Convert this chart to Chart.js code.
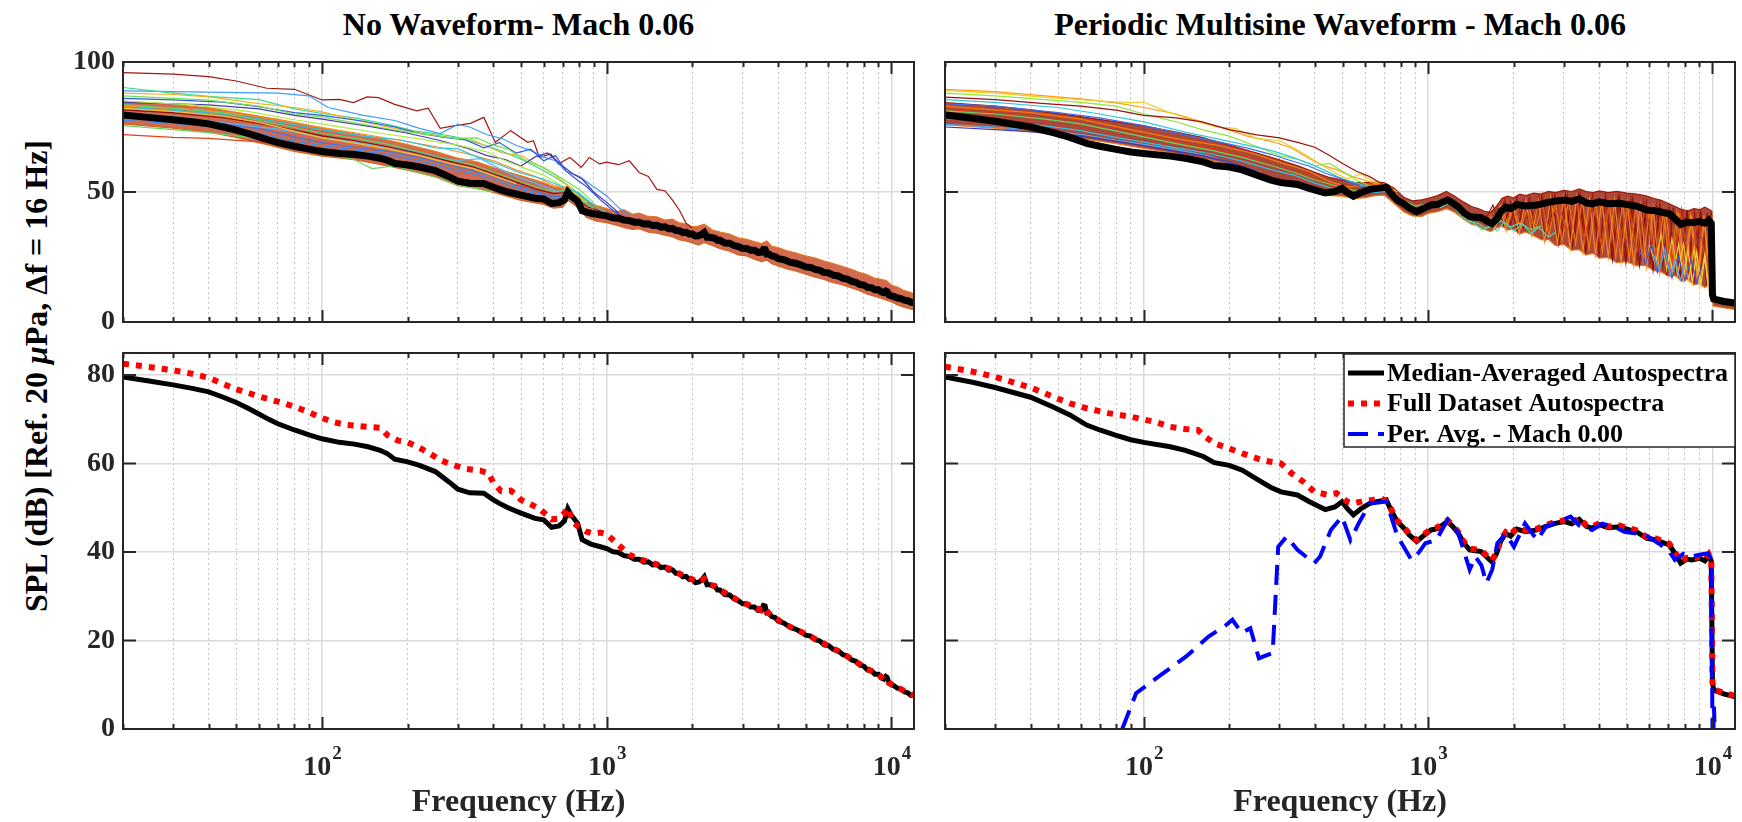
<!DOCTYPE html>
<html>
<head>
<meta charset="utf-8">
<script src="https://cdn.jsdelivr.net/npm/chart.js@4.4.1/dist/chart.umd.min.js"></script>
<style>
    html, body { margin: 0; padding: 0; background: #fff; }
    #page { position: relative; width: 1742px; height: 822px; overflow: hidden;
            font-family: "Liberation Serif", "Times New Roman", serif; font-weight: bold; color: #000; }
    canvas { position: absolute; }
    .title { position: absolute; top: 4px; font-size: 32px; line-height: 40px; text-align: center; white-space: nowrap; }
    #ylab { position: absolute; left: 36px; top: 376px; font-size: 32px; white-space: nowrap;
            transform: translate(-50%, -50%) rotate(-90deg); }
</style>
</head>
<body>
<div id="page">
    <div class="title" style="left:123px;width:791px;">No Waveform- Mach 0.06</div>
    <div class="title" style="left:945px;width:790px;">Periodic Multisine Waveform - Mach 0.06</div>
    <div id="ylab">SPL (dB) [Ref. 20 <i>μ</i>Pa, Δf = 16 Hz]</div>
    <canvas id="tl" width="930" height="337" style="left:0;top:0"></canvas>
    <canvas id="tr" width="812" height="337" style="left:930px;top:0"></canvas>
    <canvas id="bl" width="930" height="485" style="left:0;top:337px"></canvas>
    <canvas id="br" width="812" height="485" style="left:930px;top:337px"></canvas>
</div>
<script>
// ---- axis ticks ----
const xTickFreqs = [20, 30, 40, 50, 60, 70, 80, 90, 100, 200, 300, 400, 500, 600, 700, 800, 900,
    1000, 2000, 3000, 4000, 5000, 6000, 7000, 8000, 9000, 10000];
const majorFreqs = [100, 1000, 10000];
const majorExp = ['2', '3', '4'];
const yTicksTop = [0, 50, 100];
const yTicksBottom = [0, 20, 40, 60, 80];

// ---- median-averaged autospectra (black) ----
const medNoWave = [[20,79.6],[25,78.6],[30,77.8],[35,77.0],[40,76.2],[45,75.0],[50,73.8],[55,72.5],[60,71.2],
    [65,70.0],[70,69.0],[80,67.6],[90,66.5],[100,65.6],[115,64.8],[130,64.4],[145,63.8],[160,63.0],[170,62.2],
    [180,61.0],[200,60.4],[220,59.6],[250,58.2],[280,55.8],[300,54.2],[330,53.4],[370,53.3],[400,51.8],[420,51.0],
    [450,50.0],[500,48.8],[560,47.6],[600,47.3],[640,45.6],[680,45.9],[710,47.0],[730,49.8],[750,48.4],[790,46.5],
    [820,42.8],[880,41.8],[950,41.2],[1000,40.8],[1050,40.1],[1100,39.9],[1150,39.2],[1200,39.0],[1250,38.4],
    [1300,38.4],[1350,37.7],[1400,37.8],[1450,37.1],[1500,37.2],[1550,36.5],[1600,36.6],[1650,35.9],[1700,36.0],
    [1750,35.2],[1800,35.1],[1850,34.4],[1900,34.5],[1950,33.8],[2000,33.8],[2050,33.1],[2100,33.2],[2150,33.6],
    [2200,34.4],[2250,32.6],[2300,32.6],[2400,32.2],[2450,31.4],[2500,31.4],[2600,30.4],[2700,30.3],[2800,29.4],
    [2900,29.0],[3000,28.3],[3100,28.3],[3200,27.6],[3300,27.6],[3400,26.8],[3500,26.9],[3550,27.9],[3600,27.8],
    [3650,26.2],[3700,26.2],[3800,25.4],[3900,25.2],[4000,24.4],[4200,23.9],[4400,23.0],[4600,22.6],[4800,22.0],
    [5000,21.2],[5200,21.0],[5400,20.2],[5600,19.9],[5800,19.0],[6000,18.9],[6250,18.0],[6500,17.7],[6750,16.8],
    [7000,16.5],[7250,15.6],[7500,15.3],[7750,14.4],[8000,14.2],[8250,13.3],[8500,13.2],[8750,12.4],[9000,12.4],
    [9200,11.6],[9400,11.3],[9550,11.9],[9650,11.7],[9800,10.4],[10000,10.0],[10200,9.8],[10500,9.2],[10800,9.0],
    [11100,8.4],[11400,8.2],[11700,7.6],[12000,7.5]];

const medPeriodic = [[20,79.6],[25,78.4],[30,77.2],[40,75.0],[48,72.8],[55,71.0],[63,68.7],[70,67.6],[80,66.4],
    [90,65.4],[100,64.8],[124,63.8],[140,63.0],[162,61.6],[177,60.2],[200,59.6],[222,58.5],[250,56.5],[280,54.6],
    [304,53.6],[347,52.9],[380,51.5],[410,50.4],[435,49.6],[470,50.2],[498,51.4],[520,49.8],[546,48.4],[580,49.8],
    [624,51.0],[660,51.4],[713,51.8],[740,49.5],[780,46.8],[815,45.7],[860,43.8],[912,42.4],[960,43.6],[1024,45.0],
    [1080,45.3],[1130,46.2],[1171,46.9],[1220,45.8],[1278,44.2],[1330,42.2],[1400,40.5],[1470,40.3],[1536,40.1],
    [1600,39.0],[1675,37.8],[1740,39.6],[1800,42.5],[1876,44.2],[1950,43.6],[2050,45.2],[2200,44.6],[2418,45.0],
    [2600,45.8],[2800,46.5],[3017,46.9],[3200,46.4],[3400,47.4],[3600,45.8],[3768,45.4],[4000,46.2],[4300,45.5],
    [4707,45.7],[5000,45.2],[5400,44.6],[5879,43.1],[6300,42.8],[7050,41.6],[7400,39.6],[7730,37.5],[8100,38.4],
    [8450,38.2],[9000,38.6],[9400,38.0],[9700,39.2],[9900,38.0],[10000,10.4],[10100,8.8],[10500,8.4],[11000,7.9],
    [11500,7.6],[12000,7.3]];

// ---- full dataset autospectra (red dotted) ----
const fullNoWave = [[20,82.6],[25,81.8],[30,81.1],[35,80.3],[40,79.4],[45,78.0],[50,76.8],[60,75.2],[70,74.0],
    [80,72.9],[90,71.6],[100,70.3],[110,69.4],[120,68.8],[140,68.4],[160,68.1],[170,66.4],[185,65.2],[200,64.8],
    [220,63.6],[240,62.2],[260,60.8],[285,59.8],[320,58.8],[360,58.4],[385,57.8],[400,55.6],[425,53.8],[460,53.9],
    [480,53.0],[500,51.8],[540,50.8],[580,49.8],[640,47.4],[680,47.6],[710,48.8],[730,50.0],[760,46.8],[800,45.6],
    [850,44.6],[900,44.2],[950,44.4],[1000,44.0],[1100,41.6],[1200,39.4],[1300,38.4],[1400,37.8],[1500,37.2],
    [1600,36.6],[1700,36.0],[1800,35.1],[1900,34.5],[2000,33.8],[2100,33.2],[2200,34.0],[2300,32.6],[2400,32.3],
    [2500,31.4],[2700,30.2],[2900,29.0],[3100,28.2],[3300,27.6],[3500,26.8],[3600,27.4],[3700,26.2],[3900,25.1],
    [4200,23.8],[4500,22.8],[4800,22.0],[5200,20.9],[5600,19.8],[6000,18.8],[6500,17.6],[7000,16.4],[7500,15.2],
    [8000,14.1],[8500,13.1],[9000,12.4],[9400,11.2],[9600,11.4],[9800,10.4],[10200,9.8],[10800,9.0],[11400,8.2],[12000,7.6]];

const fullPeriodic = [[20,81.9],[25,80.8],[30,79.6],[40,77.2],[48,75.1],[55,73.6],[63,72.5],[75,71.4],[90,70.6],
    [110,69.4],[124,68.3],[140,67.8],[155,67.6],[165,66.0],[177,64.6],[200,63.4],[222,62.3],[260,60.8],[304,60.0],
    [331,57.8],[364,55.9],[398,53.6],[440,53.0],[476,53.3],[520,51.4],[546,51.0],[600,51.6],[640,51.8],[680,52.2],
    [713,51.6],[740,49.8],[780,47.0],[815,46.0],[860,44.0],[912,42.7],[960,43.8],[1024,45.3],[1080,45.6],[1130,46.5],
    [1171,47.2],[1220,46.0],[1278,44.5],[1330,42.5],[1400,40.8],[1470,40.6],[1536,40.4],[1600,39.3],[1675,38.1],
    [1740,39.9],[1800,42.8],[1876,44.5],[1950,43.9],[2050,45.5],[2200,44.9],[2418,45.3],[2600,46.1],[2800,46.8],
    [3017,47.2],[3200,46.7],[3400,47.7],[3600,46.1],[3768,45.7],[4000,46.5],[4300,45.8],[4707,46.0],[5000,45.5],
    [5400,44.9],[5879,43.4],[6300,43.1],[7050,41.9],[7400,39.9],[7730,37.8],[8100,38.7],[8450,38.5],[9000,38.9],
    [9400,38.3],[9700,39.5],[9900,38.3],[10000,10.6],[10100,9.0],[10500,8.6],[11000,8.1],[11500,7.8],[12000,7.5]];

// ---- periodic average, Mach 0.00 (blue dashed) ----
const perAvgMach0 = [[84,0],[94,8.1],[113,11.9],[141,16.4],[169,20.9],[194,23.4],[205,24.7],[221,21.7],[237,22.8],
    [254,16.0],[284,17.2],[297,41.2],[318,43.5],[347,40.5],[398,37.5],[417,39.0],[455,45.0],[498,48.0],[533,42.7],
    [570,46.5],[624,51.0],[713,51.4],[781,43.5],[874,38.2],[930,40.0],[978,42.0],[1068,42.7],[1171,47.3],[1278,44.2],
    [1400,36.0],[1464,39.0],[1540,37.0],[1602,33.0],[1680,36.0],[1752,42.0],[1876,44.2],[2003,41.2],[2191,46.5],
    [2418,42.7],[2600,45.8],[2768,46.5],[3170,48.0],[3400,46.0],[3768,45.0],[4100,46.4],[4508,45.7],[4900,44.6],
    [5390,44.2],[5900,43.6],[6446,42.0],[7000,40.4],[7375,38.2],[7900,39.6],[8450,39.0],[9000,39.4],[9600,39.7],
    [9900,38.6],[10000,0],[10080,0],[10120,5.1],[10180,0]];

// ---- individual-record spectra, no waveform (top left) ----
const tlBandHigh = [[20,85],[30,83.6],[40,82.4],[50,80.6],[60,79.2],[80,76.8],[100,74.6],[130,72.4],[160,70.6],
    [200,68.2],[250,65.6],[300,63],[350,61.6],[400,59.4],[500,56.2],[600,53.6],[650,52],[700,51.6],[730,52.2],
    [780,50.2],[850,46.4],[920,44.8],[1000,43.6],[1080,42.4],[1150,43.2],[1230,41.4],[1300,41.9],[1400,40.6],
    [1500,40.4],[1600,39.2],[1700,39.6],[1800,38.1],[1900,37.8],[2000,36.6],[2100,36.9],[2200,37.6],[2350,35.4],
    [2500,34.6],[2700,33.8],[2900,32.4],[3100,31.8],[3300,30.9],[3500,30.2],[3650,31.2],[3800,29.1],[4000,28.6],
    [4300,27.4],[4600,26.6],[5000,25.4],[5400,24.6],[5800,23.4],[6200,22.6],[6700,21.4],[7200,20.4],[7700,19.1],
    [8200,18.2],[8700,16.9],[9200,16.4],[9600,15.9],[10000,14.2],[10500,13.4],[11000,12.2],[11500,11.6],[12000,10.8]];
const tlBandLow = [[20,76.2],[30,74.6],[40,73],[50,71],[60,69],[80,65.6],[100,63.8],[130,62.4],[160,60.6],
    [200,58.4],[250,55.8],[300,52.4],[350,51.4],[400,49.8],[500,46.8],[600,45.2],[650,43.8],[700,44.2],[730,46.8],
    [780,44.6],[850,40.2],[920,38.8],[1000,38.2],[1080,37.2],[1150,36.4],[1230,35.6],[1300,35.9],[1400,34.6],
    [1500,34.2],[1600,33.4],[1700,32.8],[1800,31.6],[1900,31.2],[2000,30.4],[2100,29.6],[2200,30.6],[2350,29.4],
    [2500,28.2],[2700,27.2],[2900,25.8],[3100,25.4],[3300,24.2],[3500,23.2],[3650,23.8],[3800,22.4],[4000,21.6],
    [4300,20.4],[4600,19.6],[5000,18.4],[5400,17.2],[5800,16.4],[6200,15.2],[6700,14.4],[7200,13.2],[7700,12.1],
    [8200,10.8],[8700,9.9],[9200,9.2],[9600,8.4],[10000,7.8],[10500,6.6],[11000,5.8],[11500,5.2],[12000,4.6]];
const tlDarkRed = [[20,95.9],[30,95.3],[40,94.4],[50,92.7],[64,89.9],[80,89.5],[100,85.4],[115,85.6],[129,84.4],
    [144,86.6],[158,86.3],[179,83.8],[215,81.2],[236,82.2],[260,74.5],[293,75.5],[332,76.4],[370,78.7],[406,69.1],
    [460,73.6],[528,69.1],[553,69.7],[580,63.3],[636,64.6],[676,60.8],[742,63.3],[814,59.5],[868,63.3],[944,60.8],
    [1000,61.5],[1100,60.5],[1200,62],[1300,57.5],[1400,56],[1500,51],[1600,50.5],[1700,47],[1800,43],[1900,38],[2000,36]];
const tlBlueA = [[20,88.9],[30,88.6],[45,88.3],[70,88],[90,87],[105,82.5],[140,79.5],[180,77.5],[220,74.5],[260,72.5],
    [300,76],[330,75],[380,72],[430,70.5],[480,68],[540,66],[600,63.5],[660,62],[720,58],[800,56],[900,52],[1000,48.5],
    [1100,44],[1200,41]];
const tlGreenA = [[20,90.2],[30,88],[40,86.8],[60,85.5],[80,82],[100,80.2],[130,78.5],[170,76],[210,73.5],[260,72.2],
    [300,71],[360,68.5],[420,66],[480,63.5],[560,60],[640,56.5],[720,53],[800,49],[900,45],[1000,42]];
const tlYellow = [[20,88],[30,87.5],[40,86.6],[60,84],[80,82.5],[100,80.8],[140,77],[180,74.5],[230,72.5],[280,71],
    [330,70.5],[380,67.5],[430,65],[500,64],[560,61],[650,57],[740,52],[820,47],[900,43]];
const tlBlueB = [[20,86],[30,85.4],[45,84.6],[60,82.8],[80,80.5],[100,79.5],[140,77.2],[180,75],[220,72.5],[270,71],
    [320,70],[370,67],[420,69],[480,65],[540,66.5],[600,62],[660,64],[720,58],[780,55],[850,52],[950,47],[1050,43],[1150,40]];
const tlGreenB = [[20,87],[30,86],[40,85.3],[60,83],[80,80],[100,78.8],[140,76],[180,73.8],[240,72],[300,70.5],
    [350,70.8],[400,68],[450,66.5],[520,62],[600,59.5],[700,55],[800,51],[900,46]];
const tlPurple = [[20,84.5],[40,83.5],[60,82],[80,79.5],[100,78],[150,75],[200,72.6],[260,69.8],[320,67],[380,64],
    [440,62.5],[500,60],[560,63.5],[620,65],[700,60],[760,57],[820,55],[900,50],[1000,46],[1100,42]];
const tlLime = [[20,85],[35,83.5],[55,81],[80,77.8],[110,75.4],[160,72.6],[220,70.4],[300,68],[380,65.4],[440,62],
    [520,59],[600,56.5],[680,53],[760,50],[850,46]];
const tlOrange = [[20,83],[40,81.5],[60,79],[90,75.6],[130,72.8],[180,70.2],[250,67.5],[320,64.8],[400,62],[480,58.5],
    [560,56],[640,53],[720,51],[800,48]];
const tlCyan = [[20,82.5],[30,81.5],[50,79.6],[70,77],[100,74],[140,71.5],[190,70],[250,67],[300,66.6],[350,63.5],
    [420,60.5],[500,57.2],[600,55],[700,52],[800,49.5],[900,45]];
const tlSky = [[20,80.5],[30,79],[50,76],[70,74.2],[100,71],[140,68.6],[200,66],[260,63],[300,62.2],[360,62.8],
    [420,59],[480,56],[560,53.5],[640,51],[700,49.5],[760,49],[850,45],[950,42]];
const tlRedLow = [[20,72.1],[30,71],[40,70.6],[60,69.3],[80,67.9],[100,66.5],[130,64.8],[160,63],[200,60.5]];
const tlGreenLow = [[20,75.5],[30,74],[40,72.8],[60,70.5],[80,67.5],[100,65],[130,62.4],[150,59],[180,60],[220,57.4],
    [260,55.2],[300,52.6],[350,51.3],[400,50]];
const tlDarkRedMid = [[20,81.6],[30,80.4],[45,78.6],[60,76.4],[80,73.8],[100,71.6],[130,69.8],[170,67.4],[220,64.8],
    [280,61.8],[340,59.6],[400,57],[480,53.8],[560,51.2],[650,49.4],[720,49.8],[780,47.6],[860,44.2],[950,42.6]];
const tlBlueMid = [[20,78.8],[30,77.6],[45,76.2],[60,74.4],[80,71.2],[100,69],[130,67.2],[170,65.6],[220,63.2],
    [280,60.4],[340,58.2],[400,56],[480,52.6],[560,50.4],[650,48.2],[720,48.6],[800,45.4]];
const tlInGreen = [[20,83.6],[30,82.2],[45,80.4],[60,77.6],[80,74.8],[100,72.6],[130,70.6],[170,68.4],[220,65.4],
    [280,62.4],[340,60.4],[400,57.6],[480,54.6],[560,52],[650,50.2],[720,50.6],[800,47.2],[900,43.8]];
const tlInBlue = [[20,77.6],[30,76.4],[45,74.8],[60,72.6],[80,69.6],[100,67.8],[130,66.2],[170,64.4],[220,62],
    [280,59],[340,57],[400,54.8],[480,51.6],[560,49.4],[650,47.6],[720,48],[800,45]];
const tlInYellow = [[20,82.2],[30,81],[45,79.2],[60,76.8],[80,73.4],[100,70.8],[130,68.8],[170,66.6],[220,64],
    [280,61],[340,59],[400,56.2],[480,53.2]];

// ---- individual-record spectra, periodic multisine (top right) ----
const trBandHigh = [[20,84.4],[30,83],[40,81.6],[60,79],[80,77],[100,75.4],[130,73],[160,71],[200,68],[250,65],
    [300,62.4],[350,60],[400,57.6],[450,55.6],[500,54.6],[550,53.6],[600,53.6],[650,53.8],[700,53.6],[760,51.4],
    [820,48],[880,46.6],[950,47],[1000,47.6],[1080,48.6],[1160,50.2],[1240,48.4],[1330,46.2],[1420,44.4],[1500,43.6],
    [1580,42.6],[1660,42.2],[1740,44.6],[1820,47.6],[1900,48.4],[2000,47.8],[2100,49.2],[2200,48.6],[2350,49.6],
    [2500,49.2],[2650,50.2],[2800,49.8],[3000,50.6],[3200,50.2],[3400,51.2],[3600,50.2],[3800,49.8],[4000,50.4],
    [4300,49.8],[4600,50.2],[5000,49.6],[5400,49.2],[5800,48.6],[6200,47.6],[6600,46.8],[7000,45.6],[7400,44.4],
    [7800,43.2],[8200,42.8],[8600,43.6],[9000,43.2],[9400,44.2],[9700,43.4],[9950,42.6],[10050,9.6],[10500,9.2],
    [11000,8.8],[11500,8.4],[12000,8.2]];
const trBandLow = [[20,75.8],[30,74.6],[40,73.2],[60,70.6],[80,68.6],[100,66.8],[130,64.8],[160,63],[200,60.6],
    [250,57.6],[300,54.6],[350,52.6],[400,50.6],[450,48.6],[500,48.4],[550,47.4],[600,47.8],[650,48.6],[700,48.8],
    [760,45.6],[820,42.4],[880,40.8],[950,40.6],[1000,41.8],[1080,42.4],[1160,43.6],[1240,42.2],[1330,39.6],[1420,37.6],
    [1500,37],[1580,35.6],[1660,34.8],[1740,36.2],[1820,36.8],[1900,35.4],[2000,35.6],[2100,33.8],[2200,34.6],
    [2350,33.2],[2500,31.6],[2650,31.8],[2800,29.4],[3000,29.8],[3200,27.6],[3400,27.8],[3600,25.8],[3800,26.4],
    [4000,24.6],[4300,24.8],[4600,22.8],[5000,23.2],[5400,21.6],[5800,21.8],[6200,19.8],[6600,19.2],[7000,17.6],
    [7400,17.8],[7800,15.6],[8200,16.4],[8600,14.2],[9000,14.8],[9400,13.2],[9700,14.4],[9950,13.2],[10050,6.2],
    [10500,5.8],[11000,5.4],[11500,5.1],[12000,4.8]];
const trOrange = [[20,89.5],[30,88.6],[45,87],[60,85.8],[80,84.3],[100,82.5],[130,80],[160,77],[190,74.5],[230,71.6],
    [280,69.5],[330,67],[380,63],[430,60],[480,58.5],[540,56],[600,54.5],[660,53],[720,52.5],[780,50]];
const trYellow = [[20,89],[30,88],[50,86],[70,85],[90,84.4],[100,84.6],[120,81],[150,77.5],[180,75],[210,74.5],
    [250,70.5],[300,69.8],[350,66],[400,62],[460,58],[520,55],[580,57],[640,54],[700,53],[760,50]];
const trLime = [[20,88],[30,87],[45,85.5],[60,84.5],[80,83],[100,80],[130,77],[160,74],[200,71.5],[250,67.5],
    [300,64],[350,62.5],[400,60],[450,61],[500,58],[560,54.5],[620,52.5],[700,51.5],[780,49]];
const trDarkRed = [[20,86.5],[30,85.5],[45,84],[60,83],[80,81.5],[100,79.5],[130,78.5],[160,77],[200,74],[250,72],
    [300,70.8],[350,69],[400,67.2],[450,64],[500,61],[560,58],[620,56],[680,53.5],[750,51]];
const trCyan = [[20,85.5],[30,84.5],[50,82.5],[70,80],[100,77],[140,73],[180,70.5],[230,68],[280,66],[330,63.5],
    [380,61],[430,58.5],[500,55],[560,53.5],[620,52],[700,51]];
const trBlue = [[20,84],[30,83],[50,80.5],[70,78.5],[100,75.5],[140,72],[180,69.5],[230,67],[280,64.5],[330,62],
    [380,60],[440,57],[500,55],[580,52],[660,51]];
const trRed = [[20,82],[40,79],[60,76],[90,72.5],[130,69],[180,66.5],[240,63],[300,59],[380,56.5],[450,52.5],
    [520,50.5],[600,51],[680,52],[760,49]];
const trOrange2 = [[20,83],[40,80.5],[60,78],[90,74],[130,70.5],[180,68],[240,65],[300,61.5],[380,58],[450,54],
    [520,52],[600,52.5],[700,53],[780,48]];
const trNavyLow = [[20,75],[30,74],[45,72.8],[60,71.5],[80,69.5],[100,67.8],[130,65.5],[160,64],[200,61.5],[250,58]];
const trSkyLow = [[20,76],[30,75],[45,73.5],[60,72.2],[80,70],[100,68.3],[130,66.4],[170,63.8],[200,61.2],[260,57.5]];
const trInGreen = [[20,81.2],[30,80],[45,78],[60,76.2],[80,73.4],[100,71.2],[130,68.6],[170,66.2],[220,63.4],
    [280,60.2],[340,57.4],[400,54.6],[480,52.2],[560,50.4],[650,51],[720,51.4],[800,47.4],[900,44.6],[1000,45.4],
    [1160,47.6],[1300,44.4]];
const trInCyan = [[20,78.2],[30,77.2],[45,75.4],[60,73.6],[80,71],[100,69.2],[130,67],[170,64.8],[220,62],
    [280,58.6],[340,56.4],[400,53.4],[480,50.8],[560,49.6],[650,49.8],[720,50.2],[800,46.2],[900,42.6],[1000,43.2]];
const trZigA = [[1700,40],[1800,45],[1900,38],[2000,44],[2120,36],[2250,45],[2380,35],[2520,46],[2660,33],[2800,46],
    [2960,31],[3120,47],[3300,30],[3480,47],[3680,28],[3880,46],[4100,27],[4330,46],[4570,25],[4830,46],[5100,24],
    [5390,45],[5700,23],[6020,44],[6360,21],[6720,43],[7100,19],[7500,42],[7920,18],[8370,41],[8840,16],[9340,41],
    [9700,17],[9950,40]];
const trZigB = [[1750,44],[1850,37],[1950,46],[2060,35],[2180,47],[2310,34],[2450,48],[2590,32],[2730,48],[2880,30],
    [3040,49],[3210,29],[3390,49],[3580,27],[3780,48],[3990,26],[4210,48],[4450,24],[4700,48],[4960,23],[5240,47],
    [5540,22],[5850,46],[6180,20],[6530,45],[6900,18],[7290,44],[7700,17],[8140,43],[8600,15],[9080,43],[9550,14],[9900,42]];
const trZigC = [[1650,41],[1720,36],[1800,44],[1880,35],[1980,46],[2090,34],[2200,47],[2320,33],[2440,47],[2570,31],
    [2700,48],[2850,30],[3000,48],[3160,28],[3330,48],[3500,27],[3690,47],[3880,26],[4080,47],[4300,25],[4530,47],
    [4770,23],[5020,46],[5290,22],[5570,45],[5870,21],[6180,44],[6510,19],[6860,43],[7220,18],[7610,42],[8010,16],
    [8440,41],[8890,15],[9360,40],[9800,16]];
const trZigD = [[1600,40],[1690,45],[1770,38],[1860,47],[1950,37],[2050,48],[2160,36],[2270,48],[2390,35],[2520,49],
    [2650,33],[2790,49],[2940,32],[3090,49],[3260,31],[3430,49],[3610,29],[3800,48],[4000,28],[4210,48],[4430,27],
    [4660,48],[4910,26],[5170,47],[5440,24],[5730,46],[6030,23],[6350,45],[6690,21],[7040,44],[7410,20],[7800,43],
    [8220,19],[8650,42],[9110,18],[9590,42],[9900,20]];
const trZigE = [[2000,40],[2150,46],[2300,38],[2480,47],[2660,36],[2860,47],[3070,34],[3300,48],[3540,32],[3800,47],
    [4080,30],[4380,47],[4700,29],[5050,46],[5420,27],[5820,45],[6250,25],[6710,44],[7200,23],[7730,42],[8300,21],
    [8910,41],[9560,20],[9950,41]];
const trZigYellow = [[6000,30],[6300,22],[6600,34],[6900,20],[7200,32],[7550,18],[7900,30],[8250,16],[8600,28],
    [9000,15],[9400,26],[9700,14],[9950,30]];
const trZigYellow2 = [[7000,26],[7300,19],[7600,30],[7900,17],[8200,28],[8500,15],[8800,27],[9100,14],[9400,25],
    [9650,13],[9900,24]];
const trZigBlue = [[5500,28],[5800,22],[6100,30],[6400,19],[6800,27],[7200,17],[7600,25],[8000,16],[8400,24],
    [8800,15],[9200,22]];
const trZigSky = [[6200,26],[6500,20],[6800,28],[7100,18],[7400,24],[7700,16],[8000,22]];
const trZigGreen = [[1100,44],[1200,46],[1300,41],[1400,38.5],[1500,38],[1600,36],[1700,37],[1800,39],[1950,36.5],
    [2100,38],[2300,35.5],[2500,37]];
const trZigTeal = [[1250,44],[1350,40],[1450,38],[1550,35.5],[1650,37],[1750,35],[1850,38.5],[2000,35],[2150,37.8],
    [2300,34],[2450,36.4],[2650,32.6],[2800,34.5]];

const legendLabels = ['Median-Averaged Autospectra', 'Full Dataset Autospectra', 'Per. Avg. - Mach 0.00'];

// ---- helpers ----
const FONT = '"Liberation Serif", "Times New Roman", serif';
const AXIS = '#262626';

function series(pairs, color, width, extra) {
    return Object.assign({
        data: pairs.map(p => ({ x: p[0], y: p[1] })),
        borderColor: color,
        borderWidth: width,
        pointRadius: 0,
        fill: false,
        tension: 0,
        order: 10
    }, extra || {});
}

const isMajor = c => c.tick && majorFreqs.includes(c.tick.value);

// box, inward ticks and x labels
const framePlugin = {
    id: 'frame',
    afterDatasetsDraw(chart, args, opts) {
        const { ctx, chartArea: a, scales: { x, y } } = chart;
        ctx.save();
        ctx.strokeStyle = AXIS;
        ctx.lineWidth = 2;
        ctx.beginPath();
        xTickFreqs.forEach(v => {
            const px = Math.round(x.getPixelForValue(v)) + 0.5;
            const len = majorFreqs.includes(v) ? 12 : 5;
            ctx.moveTo(px, a.bottom); ctx.lineTo(px, a.bottom - len);
            ctx.moveTo(px, a.top); ctx.lineTo(px, a.top + len);
        });
        y.ticks.forEach(t => {
            const py = y.getPixelForValue(t.value);
            ctx.moveTo(a.left, py); ctx.lineTo(a.left + 13, py);
            ctx.moveTo(a.right, py); ctx.lineTo(a.right - 13, py);
        });
        ctx.stroke();
        ctx.strokeRect(a.left, a.top, a.right - a.left, a.bottom - a.top);

        if (opts.xLabels) {
            ctx.fillStyle = AXIS;
            ctx.textBaseline = 'alphabetic';
            ctx.textAlign = 'left';
            majorFreqs.forEach((v, i) => {
                ctx.font = 'bold 28px ' + FONT;
                const w1 = ctx.measureText('10').width;
                ctx.font = 'bold 19px ' + FONT;
                const w2 = ctx.measureText(majorExp[i]).width;
                const x0 = x.getPixelForValue(v) - (w1 + w2) / 2;
                ctx.font = 'bold 28px ' + FONT;
                ctx.fillText('10', x0, a.bottom + 46);
                ctx.font = 'bold 19px ' + FONT;
                ctx.fillText(majorExp[i], x0 + w1 + 1, a.bottom + 30);
            });
        }
        ctx.restore();
    }
};

// legend drawn inside the plot area (top right)
const insideLegend = {
    id: 'insideLegend',
    afterDraw(chart, args, opts) {
        if (!opts.show) return;
        const { ctx, chartArea: a } = chart;
        const w = 391, h = 93;
        const left = a.right - w, top = a.top + 1;
        ctx.save();
        ctx.fillStyle = '#fff';
        ctx.fillRect(left, top, w, h);
        ctx.strokeStyle = AXIS;
        ctx.lineWidth = 1.5;
        ctx.strokeRect(left, top, w, h);
        const rows = chart.data.datasets.filter(d => d.label);
        rows.sort((p, q) => legendLabels.indexOf(p.label) - legendLabels.indexOf(q.label));
        rows.forEach((d, i) => {
            const cy = top + 19 + i * 30.5;
            ctx.strokeStyle = d.borderColor;
            ctx.lineWidth = d.borderWidth;
            ctx.setLineDash(d.borderDash || []);
            ctx.beginPath();
            ctx.moveTo(left + 4, cy); ctx.lineTo(left + 40, cy);
            ctx.stroke();
            ctx.setLineDash([]);
            ctx.fillStyle = '#000';
            ctx.font = 'bold 26px ' + FONT;
            ctx.textBaseline = 'middle';
            ctx.fillText(d.label, left + 43, cy + 1);
        });
        ctx.restore();
    }
};

function makePanel(id, cfg) {
    return new Chart(document.getElementById(id), {
        type: 'line',
        data: { datasets: cfg.datasets },
        options: {
            responsive: false,
            animation: false,
            events: [],
            layout: { padding: cfg.pad },
            plugins: {
                legend: { display: false },
                tooltip: { enabled: false },
                frame: { xLabels: cfg.xLabels },
                insideLegend: { show: !!cfg.legend }
            },
            scales: {
                x: {
                    type: 'logarithmic',
                    min: 20, max: 12000,
                    afterBuildTicks: s => { s.ticks = xTickFreqs.map(v => ({ value: v, major: majorFreqs.includes(v) })); },
                    afterFit: s => { s.height = cfg.xh; s.paddingLeft = 0; s.paddingRight = 0; },
                    ticks: { display: false, autoSkip: false },
                    grid: {
                        drawTicks: false,
                        color: c => isMajor(c) ? '#dadada' : '#c4c4c4',
                        lineWidth: c => isMajor(c) ? 1.5 : 1
                    },
                    border: { display: false, dash: c => isMajor(c) ? [] : [2, 3] },
                    title: {
                        display: !!cfg.xLabels,
                        text: 'Frequency (Hz)',
                        color: AXIS,
                        font: { family: FONT, size: 32, weight: 'bold' },
                        padding: { top: 0, bottom: 0 }
                    }
                },
                y: {
                    min: 0, max: cfg.yMax,
                    afterBuildTicks: s => { s.ticks = cfg.yTicks.map(v => ({ value: v })); },
                    afterFit: s => { s.width = cfg.yw; s.paddingTop = 0; s.paddingBottom = 0; },
                    ticks: {
                        display: cfg.yLabels,
                        color: AXIS,
                        padding: 8,
                        font: { family: FONT, size: 28, weight: 'bold' }
                    },
                    grid: { drawTicks: false, color: '#dadada', lineWidth: 1.5 },
                    border: { display: false }
                }
            }
        },
        plugins: [framePlugin, insideLegend]
    });
}

// ---- top left ----
makePanel('tl', {
    pad: { top: 62, right: 16, bottom: 0, left: 0 }, xh: 15, yw: 123,
    yMax: 100, yTicks: yTicksTop, yLabels: true, xLabels: false,
    datasets: [
        series(tlBandHigh, '#e8781c', 1.2, { order: 20 }),
        series(tlBandLow, '#d8601a', 1.2, { order: 20, fill: '-1', backgroundColor: 'rgba(190,48,12,0.72)' }),
        series(tlRedLow, '#e4420e', 1.2),
        series(tlGreenLow, '#62d85a', 1.2),
        series(tlInBlue, '#3a8ef0', 1.2),
        series(tlInYellow, '#f0c23a', 1.2),
        series(tlInGreen, '#58d870', 1.2),
        series(tlDarkRedMid, '#8c1008', 1.2),
        series(tlBlueMid, '#3a7ae8', 1.2),
        series(tlSky, '#54b8f6', 1.2),
        series(tlCyan, '#2ec4e0', 1.2),
        series(tlOrange, '#ff8c1c', 1.2),
        series(tlLime, '#a8ee3e', 1.2),
        series(tlPurple, '#4b3ca6', 1.2),
        series(tlGreenB, '#70e24c', 1.2),
        series(tlBlueB, '#2f58e6', 1.2),
        series(tlYellow, '#f2b41e', 1.2),
        series(tlGreenA, '#37d98c', 1.2),
        series(tlBlueA, '#3b9dff', 1.2),
        series(tlDarkRed, '#a01812', 1.2),
        series(medNoWave, '#000', 7, { order: 0 })
    ]
});

// ---- top right ----
makePanel('tr', {
    pad: { top: 62, right: 7, bottom: 0, left: 0 }, xh: 15, yw: 15,
    yMax: 100, yTicks: yTicksTop, yLabels: false, xLabels: false,
    datasets: [
        series(trBandHigh, '#a01a08', 1.2, { order: 20 }),
        series(trBandLow, '#e87a1c', 1.2, { order: 20, fill: '-1', backgroundColor: 'rgba(150,26,8,0.8)' }),
        series(trInCyan, '#30c0e0', 1.2),
        series(trInGreen, '#5cdc68', 1.2),
        series(trZigTeal, '#4cd6b0', 1.2),
        series(trZigGreen, '#58e0a0', 1.2),
        series(trZigSky, '#4aa6f0', 1.2),
        series(trZigBlue, '#3a5ae0', 1.2),
        series(trZigYellow2, '#f5d040', 1.2),
        series(trZigYellow, '#f0c030', 1.2),
        series(trZigE, '#d84a10', 1.2),
        series(trZigC, '#f28a24', 1.2),
        series(trZigA, '#f07a1a', 1.2),
        series(trZigD, '#a01a08', 1.2),
        series(trZigB, '#8b0a05', 1.2),
        series(trNavyLow, '#3a3ac0', 1.2),
        series(trSkyLow, '#48aaf0', 1.2),
        series(trBlue, '#3a6ef0', 1.2),
        series(trCyan, '#30c8d8', 1.2),
        series(trRed, '#e03a0a', 1.2),
        series(trOrange2, '#ff7a00', 1.2),
        series(trDarkRed, '#9b1010', 1.2),
        series(trLime, '#8ce83c', 1.2),
        series(trYellow, '#e8d020', 1.2),
        series(trOrange, '#ff9a1a', 1.2),
        series(medPeriodic, '#000', 7, { order: 0 })
    ]
});

// ---- bottom left ----
makePanel('bl', {
    pad: { top: 16, right: 16, bottom: 0, left: 0 }, xh: 93, yw: 123,
    yMax: 85, yTicks: yTicksBottom, yLabels: true, xLabels: true,
    datasets: [
        series(medNoWave, '#000', 5, { order: 3 }),
        series(fullNoWave, '#ff0000', 6, { order: 2, borderDash: [6, 7] })
    ]
});

// ---- bottom right ----
makePanel('br', {
    pad: { top: 16, right: 7, bottom: 0, left: 0 }, xh: 93, yw: 15,
    yMax: 85, yTicks: yTicksBottom, yLabels: false, xLabels: true, legend: true,
    datasets: [
        series(medPeriodic, '#000', 5, { order: 3, label: legendLabels[0] }),
        series(fullPeriodic, '#ff0000', 6, { order: 2, borderDash: [6, 7], label: legendLabels[1] }),
        series(perAvgMach0, '#0000ff', 4, { order: 1, borderDash: [20, 10], label: legendLabels[2] })
    ]
});
</script>
</body>
</html>
